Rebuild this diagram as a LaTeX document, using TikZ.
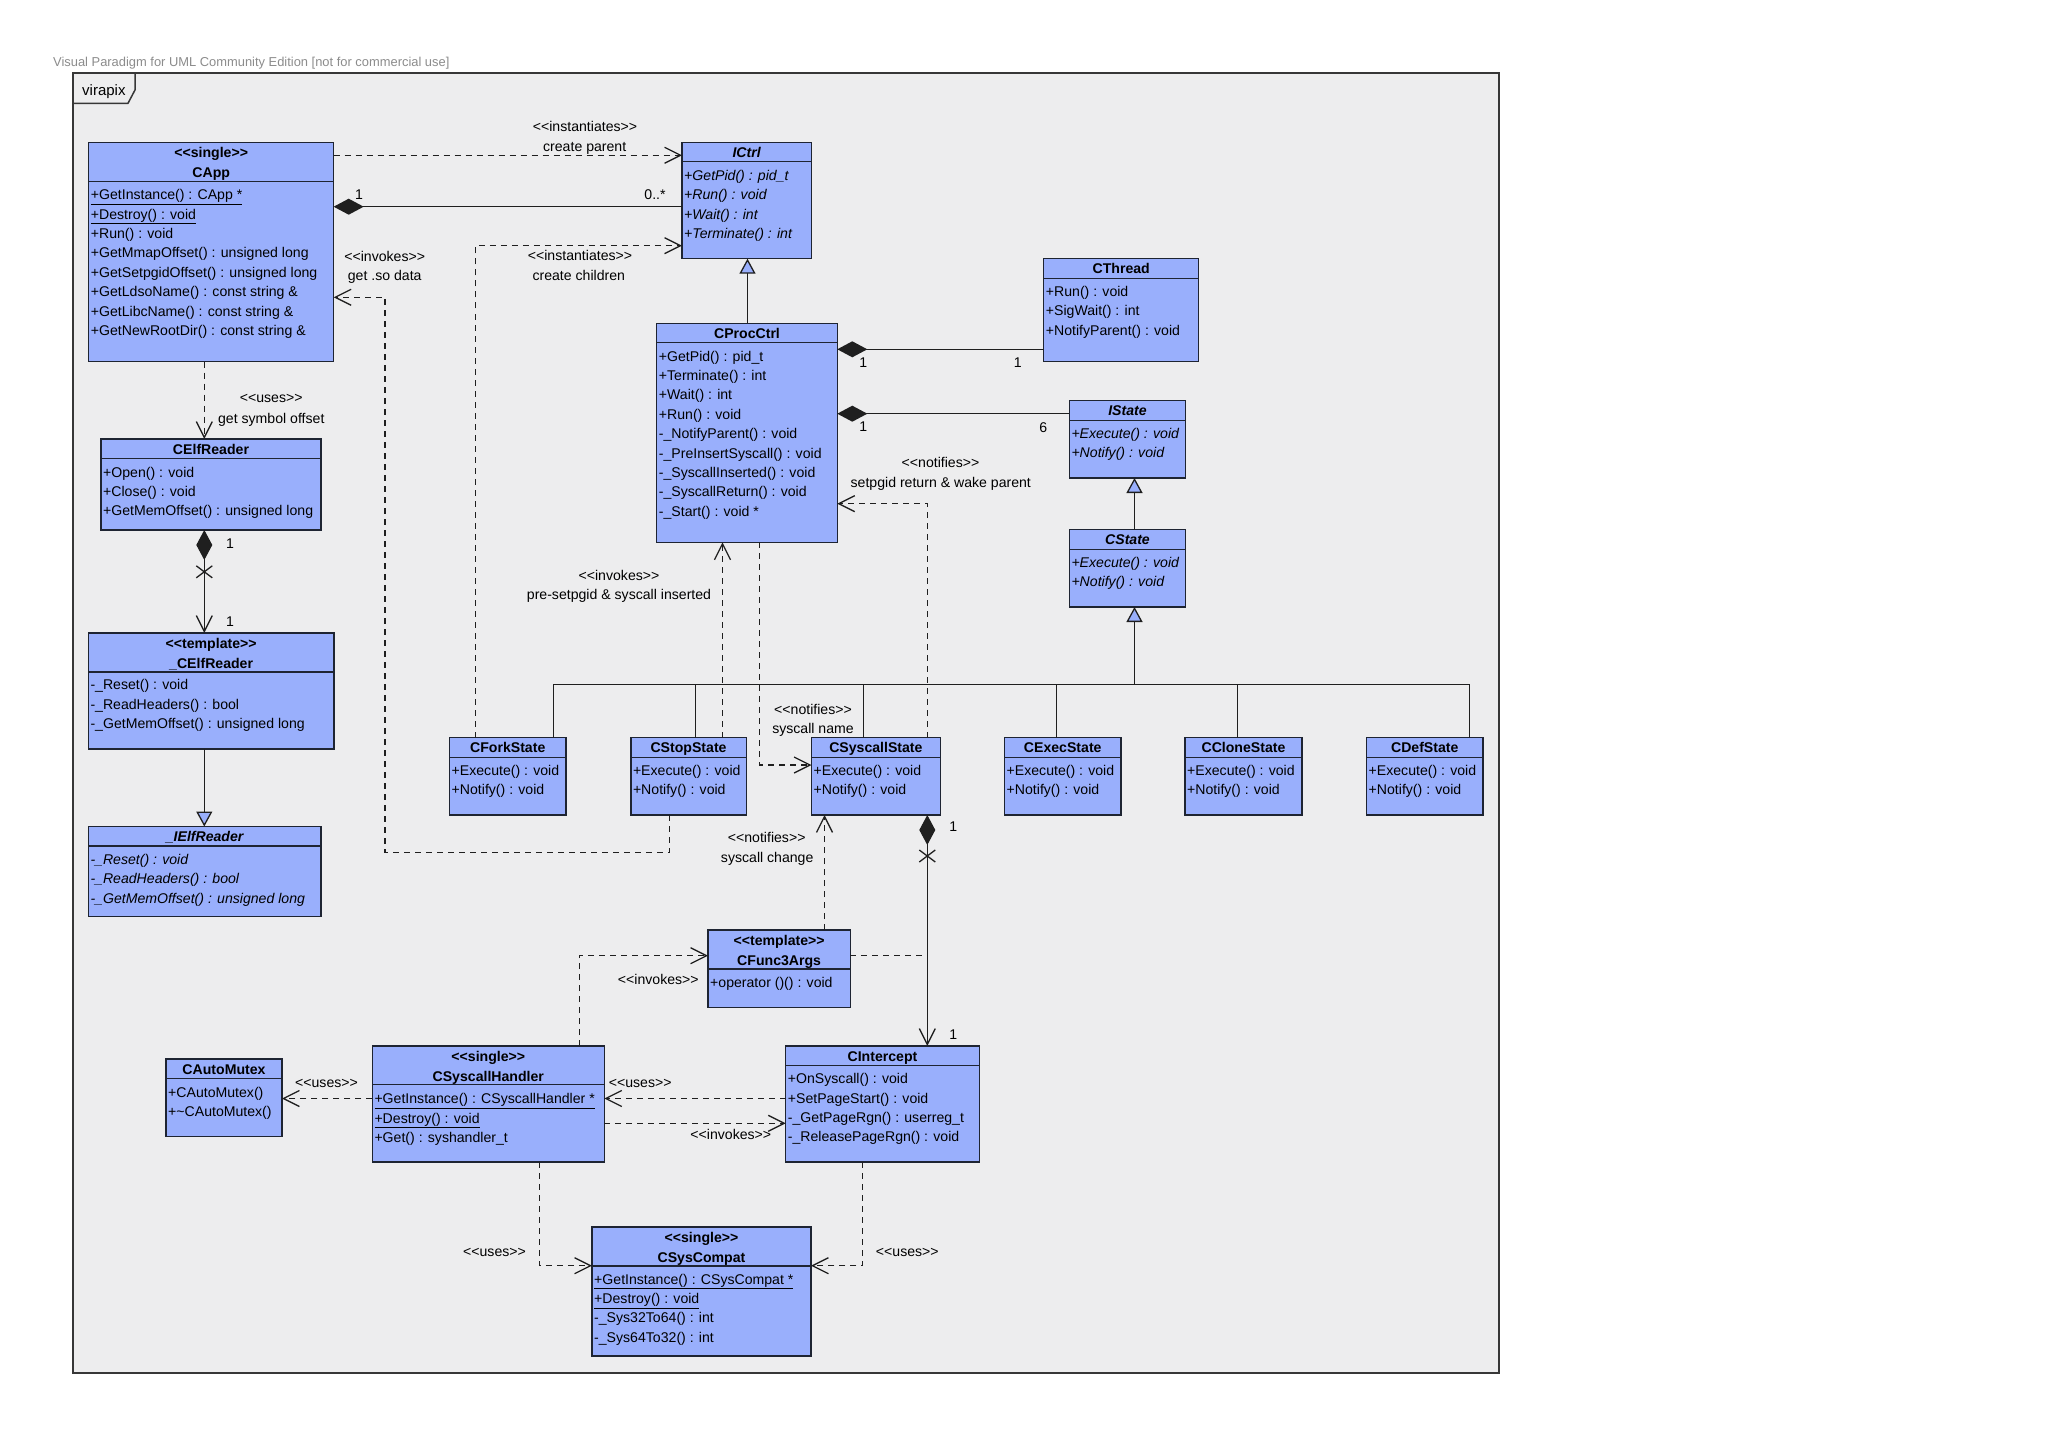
\documentclass[tikz,border=0pt]{standalone}
\usepackage{fontspec}
\setmainfont{Liberation Sans}
\usetikzlibrary{arrows.meta}

\definecolor{classfill}{RGB}{153,175,252}
\definecolor{classdraw}{RGB}{30,36,50}
\definecolor{framefill}{RGB}{237,237,238}
\definecolor{framedraw}{RGB}{55,55,55}
\definecolor{vpgray}{RGB}{140,140,140}

% stereotype text without the << >> ligature
\newcommand{\stereo}[1]{<\kern0pt<#1>\kern0pt>}

\tikzset{
  classbox/.style={draw=classdraw, fill=classfill, line width=1.5pt, anchor=north west, inner sep=0pt, outer sep=0pt},
  boxline/.style={draw=classdraw, line width=1.5pt},
  optext/.style={anchor=base west, inner sep=0pt, font=\fontsize{14.1}{17}\selectfont},
  hdtext/.style={anchor=base, inner sep=0pt, font=\fontsize{14.1}{17}\selectfont\bfseries},
  lbl/.style={anchor=base, inner sep=0pt, font=\fontsize{14.1}{17}\selectfont},
  conn/.style={line width=1.3pt, draw=black!88},
  dep/.style={conn, dash pattern=on 6pt off 5pt, -{Straight Barb[length=16pt,width=16pt]}},
  link/.style={conn, dash pattern=on 6pt off 5pt},
  gen/.style={conn, -{Triangle[length=15pt,width=16pt,fill=classfill]}},
  comp/.style={conn, {Diamond[length=30pt,width=16pt]}-},
  compnav/.style={conn, {Diamond[length=30pt,width=16pt]}-{Straight Barb[length=16pt,width=16pt]}},
}

% box with header line: name, x, y, width, height, header height
\newcommand{\umlclass}[6]{%
  \node[classbox, minimum width=#4, minimum height=#5] (#1) at (#2,#3) {};
  \draw[boxline] ([yshift=-#6]#1.north west) -- ([yshift=-#6]#1.north east);}
% operations: [style] box, first baseline, list
\newcommand{\umlops}[4][]{%
  \foreach \op [count=\i from 0] in {#4}
    \node[optext, #1] (#2-op\i) at ([xshift=2, yshift=-#3-19.4*\i]#2.north west) {\op};}
\newcommand{\hdone}[2]{\node[hdtext] (#1-name) at ([yshift=-15]#1.north) {#2};}
\newcommand{\hdtwo}[3]{%
  \node[hdtext] (#1-st) at ([yshift=-15.5]#1.north) {\stereo{#2}};
  \node[hdtext] (#1-name) at ([yshift=-35]#1.north) {#3};}

\begin{document}
\begin{tikzpicture}[x=1pt, y=-1pt]

  \useasboundingbox (0,0) rectangle (2048,1447);
  \fill[white] (0,0) rectangle (2048,1447);

  % frame
  \node[vpgray, anchor=base west, inner sep=0pt, font=\fontsize{12.9}{15}\selectfont] (vptitle) at (53,66.5)
    {Visual Paradigm for UML Community Edition [not for commercial use]};
  \node[draw=framedraw, fill=framefill, line width=2pt, anchor=north west, inner sep=0pt, outer sep=0pt,
        minimum width=1426, minimum height=1300] (virapix) at (73,73) {};
  \draw[framedraw, line width=1.5pt] (virapix.north west) -- ++(62,0) -- ++(0,17) -- ++(-7,13.3) -- ++(-55,0);
  \node[anchor=base west, inner sep=0pt, font=\fontsize{15}{17}\selectfont] (virapix-name) at (82,95.5) {virapix};

  % classes
  \umlclass{capp}{88.7}{142.3}{245}{219.4}{39}
  \hdtwo{capp}{single}{CApp}
  \umlops{capp}{57.5}{\underline{+GetInstance() : CApp *},\underline{+Destroy() : void},+Run() : void,
    +GetMmapOffset() : unsigned long,+GetSetpgidOffset() : unsigned long,+GetLdsoName() : const string \&,
    +GetLibcName() : const string \&,+GetNewRootDir() : const string \&}

  \umlclass{ictrl}{682}{142.3}{129.3}{116.4}{19.4}
  \hdone{ictrl}{\itshape ICtrl}
  \umlops[font=\fontsize{14.1}{17}\selectfont\itshape]{ictrl}{38}{+GetPid() : pid\_t,+Run() : void,+Wait() : int,+Terminate() : int}

  \umlclass{cthread}{1043.7}{258.7}{155}{103}{19.6}
  \hdone{cthread}{CThread}
  \umlops{cthread}{37.6}{+Run() : void,+SigWait() : int,+NotifyParent() : void}

  \umlclass{cproc}{656.7}{323.3}{180.6}{219}{19.4}
  \hdone{cproc}{CProcCtrl}
  \umlops{cproc}{37.7}{+GetPid() : pid\_t,+Terminate() : int,+Wait() : int,+Run() : void,
    -\_NotifyParent() : void,-\_PreInsertSyscall() : void,-\_SyscallInserted() : void,
    -\_SyscallReturn() : void,-\_Start() : void *}

  \umlclass{istate}{1069.3}{400.7}{116.4}{77.3}{20}
  \hdone{istate}{\itshape IState}
  \umlops[font=\fontsize{14.1}{17}\selectfont\itshape]{istate}{37.6}{+Execute() : void,+Notify() : void}

  \umlclass{cstate}{1069.3}{529.7}{116.4}{77.3}{19.6}
  \hdone{cstate}{\itshape CState}
  \umlops[font=\fontsize{14.1}{17}\selectfont\itshape]{cstate}{37.6}{+Execute() : void,+Notify() : void}

  \umlclass{celf}{101}{439}{220}{91}{19.6}
  \hdone{celf}{CElfReader}
  \umlops{celf}{38}{+Open() : void,+Close() : void,+GetMemOffset() : unsigned long}

  \umlclass{ucelf}{88.3}{633}{245.7}{116}{39}
  \hdtwo{ucelf}{template}{\_CElfReader}
  \umlops{ucelf}{56.6}{-\_Reset() : void,-\_ReadHeaders() : bool,-\_GetMemOffset() : unsigned long}

  \umlclass{uielf}{88.3}{826.5}{232.7}{90}{19.5}
  \hdone{uielf}{\itshape \_IElfReader}
  \umlops[font=\fontsize{14.1}{17}\selectfont\itshape]{uielf}{37.8}{-\_Reset() : void,-\_ReadHeaders() : bool,-\_GetMemOffset() : unsigned long}

  \foreach \nm/\xx/\ww/\tt in {cfork/449.5/116.5/CForkState, cstop/630.8/115.5/CStopState,
      csyscall/811.5/128.8/CSyscallState, cexec/1004.5/116.5/CExecState,
      cclone/1185/117/CCloneState, cdef/1366.5/116.5/CDefState} {
    \umlclass{\nm}{\xx}{737.5}{\ww}{77.5}{20}
    \hdone{\nm}{\tt}
    \umlops{\nm}{38}{+Execute() : void,+Notify() : void}
  }

  \umlclass{cfunc}{708}{930}{142.3}{77.3}{39}
  \hdtwo{cfunc}{template}{CFunc3Args}
  \umlops{cfunc}{57}{+operator ()() : void}

  \umlclass{cintercept}{785.7}{1046}{193.6}{116}{19.7}
  \hdone{cintercept}{CIntercept}
  \umlops{cintercept}{37.7}{+OnSyscall() : void,+SetPageStart() : void,-\_GetPageRgn() : userreg\_t,-\_ReleasePageRgn() : void}

  \umlclass{chandler}{372.3}{1046}{232}{116}{38.7}
  \hdtwo{chandler}{single}{CSyscallHandler}
  \umlops{chandler}{57.7}{\underline{+GetInstance() : CSyscallHandler *},\underline{+Destroy() : void},+Get() : syshandler\_t}

  \umlclass{cmutex}{166}{1059}{116}{77.3}{19.3}
  \hdone{cmutex}{CAutoMutex}
  \umlops{cmutex}{38}{+CAutoMutex(),+\textasciitilde CAutoMutex()}

  \umlclass{csyscompat}{592}{1227}{219}{129}{39}
  \hdtwo{csyscompat}{single}{CSysCompat}
  \umlops{csyscompat}{57}{\underline{+GetInstance() : CSysCompat *},\underline{+Destroy() : void},-\_Sys32To64() : int,-\_Sys64To32() : int}

  % connectors, top part
  \draw[dep] ([yshift=-13]capp.north east) -- ([yshift=-13]ictrl.north west);
  \draw[comp] ([yshift=-64.4]capp.north east) -- ([yshift=-64.4]ictrl.north west);
  \draw[dep] ([xshift=26.2]cfork.north west) |- ([yshift=-103.4]ictrl.north west);
  \coordinate (sodata) at (385,852.3);
  \draw[dep] ([xshift=38.5]cstop.south west) |- (sodata) |- ([yshift=-155]capp.north east);
  \coordinate (procup) at ([xshift=0.5]cproc.north);
  \draw[gen] (procup) -- (procup |- ictrl.south);
  \draw[comp] ([yshift=-26]cproc.north east) -- ([yshift=-90.6]cthread.north west);
  \draw[comp] ([yshift=-90.4]cproc.north east) -- ([yshift=-13]istate.north west);
  \draw[gen] ([xshift=7]cstate.north) -- ([xshift=7]istate.south);

  % CElfReader chain
  \draw[dep] ([xshift=115.6]capp.south west) -- ([xshift=103.3]celf.north west);
  \draw[compnav] ([xshift=103.3]celf.south west) -- ([xshift=116]ucelf.north west);
  \coordinate (xelf) at (204.3,571.8);
  \draw[conn] (xelf) +(-8,-6) -- +(8,6) (xelf) +(-8,6) -- +(8,-6);
  \draw[gen] ([xshift=116]ucelf.south west) -- ([xshift=116]uielf.north west);

  % state hierarchy
  \coordinate (bus) at (1134.5,684.3);
  \draw[conn] ([xshift=103.7]cfork.north west) |- (bus) -| ([xshift=103.3]cdef.north west);
  \foreach \nm/\dx in {cstop/64.7, csyscall/52, cexec/52, cclone/52.3} {
    \coordinate (\nm-top) at ([xshift=\dx]\nm.north west);
    \draw[conn] (\nm-top) -- (\nm-top |- bus);
  }
  \draw[gen] (bus) -- ([xshift=7]cstate.south);

  % notifies and invokes between states and CProcCtrl
  \coordinate (stopup) at ([xshift=91.7]cstop.north west);
  \draw[dep] (stopup) -- (stopup |- cproc.south);
  \draw[dep] ([xshift=103]cproc.south west) |- ([yshift=-27.5]csyscall.north west);
  \draw[dep] ([xshift=116.2]csyscall.north west) |- ([yshift=-180.4]cproc.north east);

  % lower part
  \draw[compnav] ([xshift=115.8]csyscall.south west) -- ([xshift=141.6]cintercept.north west);
  \coordinate (xsys) at (927.3,856);
  \draw[conn] (xsys) +(-8,-6) -- +(8,6) (xsys) +(-8,6) -- +(8,-6);
  \coordinate (cfunclink) at (927.3,955.7);
  \draw[link] ([yshift=-25.7]cfunc.north east) -- (cfunclink);
  \coordinate (fnup) at ([xshift=116.5]cfunc.north west);
  \draw[dep] (fnup) -- (fnup |- csyscall.south);
  \draw[dep] ([xshift=207.2]chandler.north west) |- ([yshift=-25.7]cfunc.north west);
  \draw[dep] ([yshift=-52.5]chandler.north west) -- ([yshift=-39.5]cmutex.north east);
  \draw[dep] ([yshift=-52.5]cintercept.north west) -- ([yshift=-52.5]chandler.north east);
  \draw[dep] ([yshift=-77.3]chandler.north east) -- ([yshift=-77.3]cintercept.north west);
  \draw[dep] ([xshift=167.2]chandler.south west) |- ([yshift=-38.7]csyscompat.north west);
  \draw[dep] ([xshift=77]cintercept.south west) |- ([yshift=-38.7]csyscompat.north east);

  % labels
  \node[lbl] (l-par-a) at (585,131.7) {\stereo{instantiates}};
  \node[lbl] (l-par-b) at (584.7,151.7) {create parent};
  \node[lbl] (m-app) at (359,200) {1};
  \node[lbl] (m-ctrl) at (655,200) {0..*};
  \node[lbl] (l-so-a) at (384.7,261.7) {\stereo{invokes}};
  \node[lbl] (l-so-b) at (384.7,281) {get .so data};
  \node[lbl] (l-chl-a) at (580,261) {\stereo{instantiates}};
  \node[lbl] (l-chl-b) at (578.8,280.7) {create children};
  \node[lbl] (l-sym-a) at (271.2,402.9) {\stereo{uses}};
  \node[lbl] (l-sym-b) at (271.3,423.2) {get symbol offset};
  \node[lbl] (m-elf-a) at (230,548.6) {1};
  \node[lbl] (m-elf-b) at (230,626) {1};
  \node[lbl] (m-thr-a) at (863.3,367.3) {1};
  \node[lbl] (m-thr-b) at (1017.7,367.3) {1};
  \node[lbl] (m-st-a) at (863.3,431.7) {1};
  \node[lbl] (m-st-b) at (1043.3,432) {6};
  \node[lbl] (l-wake-a) at (940.5,467.7) {\stereo{notifies}};
  \node[lbl] (l-wake-b) at (940.8,487.3) {setpgid return \& wake parent};
  \node[lbl] (l-pre-a) at (619,580) {\stereo{invokes}};
  \node[lbl] (l-pre-b) at (619,599.5) {pre-setpgid \& syscall inserted};
  \node[lbl] (l-name-a) at (813,714) {\stereo{notifies}};
  \node[lbl] (l-name-b) at (813,733) {syscall name};
  \node[lbl] (m-sys-a) at (953.3,831.7) {1};
  \node[lbl] (l-chg-a) at (766.7,842.7) {\stereo{notifies}};
  \node[lbl] (l-chg-b) at (767.2,862) {syscall change};
  \node[lbl] (l-fn) at (658.3,984.3) {\stereo{invokes}};
  \node[lbl] (m-sys-b) at (953.3,1039.3) {1};
  \node[lbl] (l-mtx) at (326.5,1087.3) {\stereo{uses}};
  \node[lbl] (l-icp-u) at (640.2,1087.7) {\stereo{uses}};
  \node[lbl] (l-icp-i) at (730.8,1139.3) {\stereo{invokes}};
  \node[lbl] (l-cmp-a) at (494.5,1256) {\stereo{uses}};
  \node[lbl] (l-cmp-b) at (907.3,1256) {\stereo{uses}};

\end{tikzpicture}
\end{document}
